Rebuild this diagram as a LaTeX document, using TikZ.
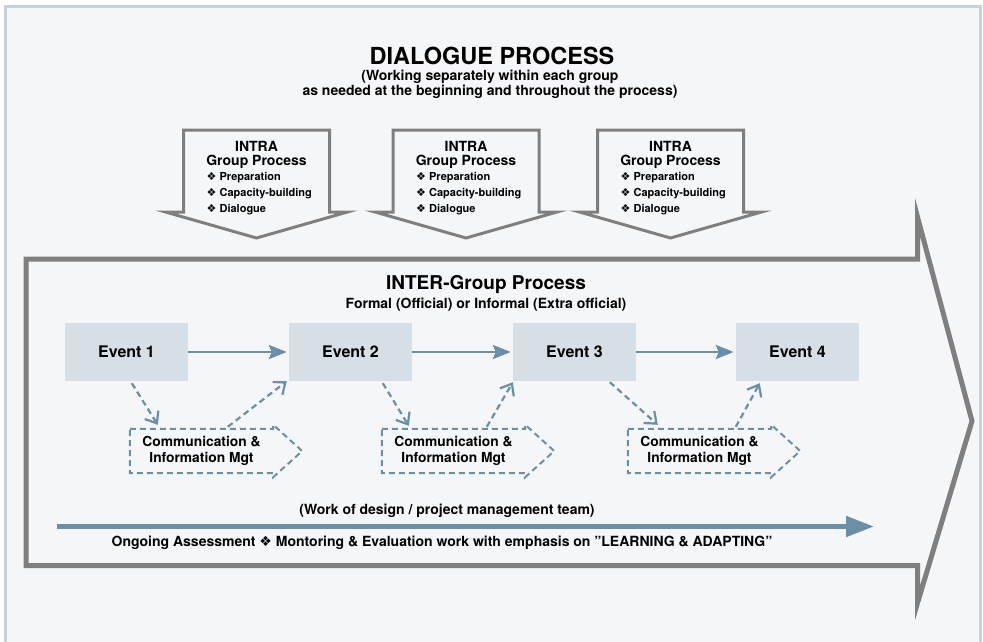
\documentclass[tikz,border=0pt]{standalone}
\usepackage{fontspec}
\setmainfont{TeX Gyre Heros}
\newfontfamily\symf{DejaVu Sans}
\usetikzlibrary{arrows.meta,calc}
\definecolor{bgc}{HTML}{F5F6F8}
\definecolor{framec}{HTML}{C5D2DC}
\definecolor{grayc}{HTML}{7F7F7F}
\definecolor{evfill}{HTML}{D6DFE6}
\definecolor{bluec}{HTML}{6A8FA7}
\newcommand{\mydia}{{\symf ❖}}
\tikzset{
  titlef/.style={font=\fontsize{23.5}{28}\selectfont\bfseries, inner sep=0pt},
  subf/.style={font=\fontsize{14}{15}\selectfont\bfseries, align=center, inner sep=0pt},
  intrahead/.style={font=\fontsize{14}{14.5}\selectfont\bfseries, align=center, inner sep=0pt},
  bullet/.style={font=\fontsize{11}{13}\selectfont\bfseries, anchor=west, inner sep=0pt},
  grayshape/.style={draw=grayc, line join=miter, miter limit=20},
  eventbox/.style={fill=evfill, minimum width=123pt, minimum height=58pt, inner sep=0pt,
    font=\fontsize{16}{18}\selectfont\bfseries},
  evarrow/.style={draw=bluec, line width=2.7pt, -{Stealth[length=18pt,width=14pt,inset=3pt]}, shorten >=2pt},
  commbox/.style={minimum width=143pt, minimum height=44pt, inner sep=0pt, align=center,
    font=\fontsize{13.8}{16}\selectfont\bfseries},
  commline/.style={draw=bluec, line width=2pt, dash pattern=on 6pt off 4pt, line join=miter},
  dasharrow/.style={draw=bluec, line width=2.2pt, dash pattern=on 6pt off 4pt,
    -{Straight Barb[length=10pt,width=16pt,line width=2.2pt]}},
  bigarrow/.style={draw=bluec, line width=5pt, -{Triangle[length=28pt,width=20pt]}},
  textf/.style={font=\fontsize{14}{16}\selectfont\bfseries, inner sep=0pt}
}
\begin{document}
\begin{tikzpicture}[x=1pt,y=-1pt]
\useasboundingbox (0,0) rectangle (983,641);
\fill[white] (0,0) rectangle (983,641);
\fill[bgc] (5,6) rectangle (980,645);
\draw[framec, line width=3pt] (5,645) -- (5,6) -- (980,6) -- (980,645);

% title
\node[titlef] (title) at (492,55.5) {DIALOGUE PROCESS};
\node[subf] (subtitle) at (490,84.5) {(Working separately within each group\\as needed at the beginning and throughout the process)};

% intra arrows
\foreach \cx/\i in {256.5/1,466/2,670.5/3}{
  \draw[grayshape, line width=3pt, fill=bgc] (\cx-73,130) -- (\cx+73,130) -- (\cx+73,212) -- (\cx+91,212)
     -- (\cx,238) -- (\cx-91,212) -- (\cx-73,212) -- cycle;
  \node[intrahead] (intraT\i) at (\cx,155) {INTRA\\Group Process};
  \node[bullet] (intraA\i) at (\cx-50,178) {\mydia\ Preparation};
  \node[bullet] (intraB\i) at (\cx-50,194) {\mydia\ Capacity-building};
  \node[bullet] (intraC\i) at (\cx-50,210) {\mydia\ Dialogue};
}

% big arrow
\draw[grayshape, line width=5pt] (26,259) -- (917.5,259) -- (917.5,217) -- (972,421) -- (917.5,603)
   -- (917.5,565.5) -- (26,565.5) -- cycle;

\node[font=\fontsize{19}{22}\selectfont\bfseries, inner sep=0pt] (inter) at (486,285) {INTER-Group Process};
\node[textf] (formal) at (486,305) {Formal (Official) or Informal (Extra official)};

% events
\node[eventbox] (e1) at (126.5,352) {Event 1};
\node[eventbox] (e2) at (350.5,352) {Event 2};
\node[eventbox] (e3) at (574.5,352) {Event 3};
\node[eventbox] (e4) at (797.5,352) {Event 4};
\draw[evarrow] (e1) -- (e2);
\draw[evarrow] (e2) -- (e3);
\draw[evarrow] (e3) -- (e4);

% communication boxes
\node[commbox] (c1) at (201.5,451) {Communication \&\\Information Mgt};
\node[commbox] (c2) at (453.5,451) {Communication \&\\Information Mgt};
\node[commbox] (c3) at (699.5,451) {Communication \&\\Information Mgt};
\foreach \c in {c1,c2,c3}{
  \draw[commline] (\c.north west) -- (\c.north east) -- ($(\c.north east)+(0,-4)$) -- ($(\c.east)+(29,0)$)
     -- ($(\c.south east)+(0,4)$) -- (\c.south east) -- (\c.south west) -- cycle;
}

% dashed connectors
\draw[dasharrow] ($(e1.south west)+(67,2)$) -- ($(c1.north west)+(28,-4)$);
\draw[dasharrow] ($(c1.north west)+(98,-2)$) -- ($(e2.south west)+(-2,0)$);
\draw[dasharrow] ($(e2.south west)+(94,2)$) -- ($(c2.north west)+(27,-3)$);
\draw[dasharrow] ($(c2.north west)+(105,-2)$) -- ($(e3.south west)+(0,1)$);
\draw[dasharrow] ($(e3.south west)+(97,1)$) -- ($(c3.north west)+(30,-4)$);
\draw[dasharrow] ($(c3.north west)+(108,-2)$) -- ($(e4.south west)+(24,2)$);

% ongoing assessment arrow
\node[textf] (work) at (447,511) {(Work of design / project management team)};
\coordinate (bs) at (57,526.5);
\coordinate (be) at (874,526.5);
\draw[bigarrow] (bs) -- (be);
\node[textf] (ongoing) at (442,543) {Ongoing Assessment \mydia\ Montoring \& Evaluation work with emphasis on ”LEARNING \& ADAPTING”};
\end{tikzpicture}
\end{document}
